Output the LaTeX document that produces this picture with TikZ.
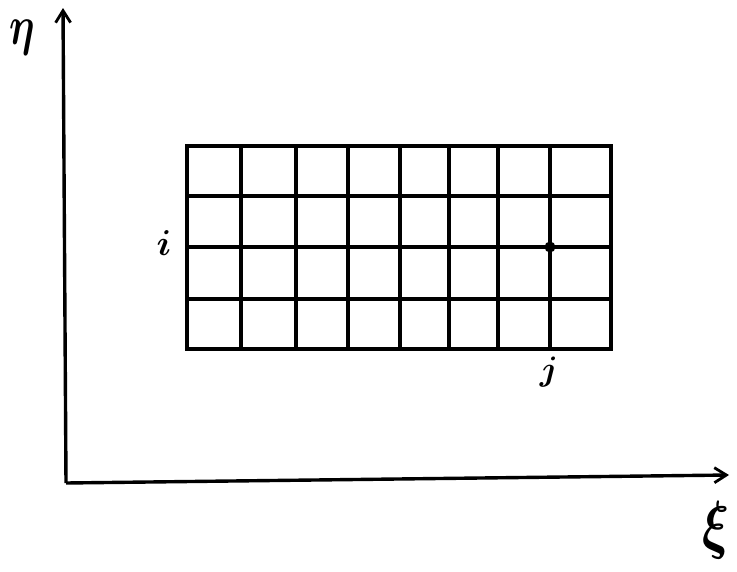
\documentclass[tikz,border=0pt]{standalone}
\usepackage{amsmath}
\usetikzlibrary{arrows.meta}
\tikzset{
  axis/.style={line width=3.4pt, -{Straight Barb[length=12pt,width=15pt,line width=2.8pt]}},
  gridline/.style={line width=3.2pt, line cap=rect},
  lbl/.style={inner sep=0pt}
}
\begin{document}
\begin{tikzpicture}[x=1pt,y=-1pt]
\useasboundingbox (0,0) rectangle (737,571);
\coordinate (origin) at (66,483);
\coordinate (ytip) at (63,8);
\coordinate (xtip) at (729,475);
\draw[axis] (origin) -- (ytip);
\draw[axis] (origin) -- (xtip);
% grid
\foreach \y in {146,196,247,299,349}
  \draw[gridline] (187,\y) -- (611,\y);
\foreach \x in {187,241,296,348,400,449,498,550,611}
  \draw[gridline] (\x,146) -- (\x,349);
\node[circle, fill=black, inner sep=0pt, minimum size=11pt] (dot) at (550,247) {};
\node[lbl, xscale=4, yscale=5.5] (eta) at (22,38) {$\boldsymbol{\eta}$};
\node[lbl, scale=3.6] (ilab) at (164,243) {$\boldsymbol{i}$};
\node[lbl, scale=3.4] (jlab) at (549,372) {$\boldsymbol{j}$};
\node[lbl, xscale=5, yscale=6.5] (xi) at (716,530) {$\boldsymbol{\xi}$};
\end{tikzpicture}
\end{document}
